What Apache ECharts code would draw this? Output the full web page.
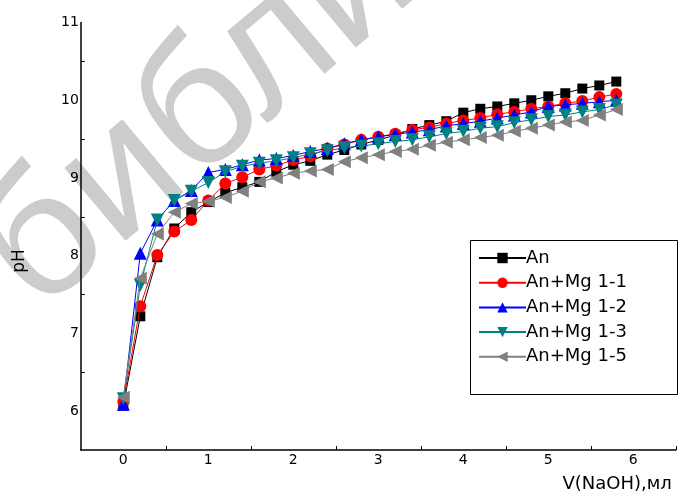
<!DOCTYPE html>
<html>
<head>
<meta charset="utf-8">
<script src="https://cdn.jsdelivr.net/npm/echarts@6/dist/echarts.min.js"></script>
<style>
  html, body { margin: 0; padding: 0; background: #fff; }
  #chart { width: 680px; height: 494px; }
</style>
</head>
<body>
<div id="chart"></div>
<script>
// Volume of titrant added, ml
const volume = [0, 0.2, 0.4, 0.6, 0.8, 1.0, 1.2, 1.4, 1.6, 1.8, 2.0, 2.2, 2.4, 2.6, 2.8,
                3.0, 3.2, 3.4, 3.6, 3.8, 4.0, 4.2, 4.4, 4.6, 4.8, 5.0, 5.2, 5.4, 5.6, 5.8];

// pH readings for each sample
const phAn = [6.07, 7.22, 7.98, 8.35, 8.56, 8.69, 8.81, 8.88, 8.95, 9.08, 9.17, 9.22, 9.30, 9.36, 9.43,
              9.49, 9.55, 9.63, 9.68, 9.73, 9.84, 9.89, 9.92, 9.96, 10.00, 10.05, 10.09, 10.15, 10.19, 10.24];
const phMg11 = [6.12, 7.35, 8.01, 8.31, 8.46, 8.71, 8.93, 9.01, 9.11, 9.16, 9.23, 9.28, 9.38, 9.43, 9.49,
                9.53, 9.57, 9.62, 9.65, 9.70, 9.74, 9.77, 9.82, 9.85, 9.89, 9.92, 9.96, 9.99, 10.04, 10.08];
const phMg12 = [6.09, 8.03, 8.46, 8.71, 8.84, 9.07, 9.11, 9.17, 9.23, 9.25, 9.29, 9.34, 9.38, 9.44, 9.49,
                9.53, 9.56, 9.59, 9.62, 9.67, 9.70, 9.73, 9.77, 9.81, 9.85, 9.92, 9.94, 9.96, 9.98, 10.00];
const phMg13 = [6.16, 7.62, 8.46, 8.71, 8.83, 8.94, 9.08, 9.15, 9.19, 9.22, 9.26, 9.31, 9.35, 9.39, 9.41,
                9.44, 9.47, 9.49, 9.53, 9.57, 9.60, 9.64, 9.66, 9.71, 9.75, 9.79, 9.81, 9.85, 9.88, 9.94];
const phMg15 = [6.18, 7.71, 8.28, 8.56, 8.67, 8.70, 8.75, 8.83, 8.95, 9.00, 9.06, 9.09, 9.11, 9.21, 9.26,
                9.30, 9.34, 9.37, 9.42, 9.46, 9.49, 9.52, 9.55, 9.60, 9.64, 9.68, 9.72, 9.74, 9.81, 9.88];

const seriesNames = ['An', 'An+Mg 1-1', 'An+Mg 1-2', 'An+Mg 1-3', 'An+Mg 1-5'];

// Axis labels and minor (half-step) ticks
const xLabels = [0, 1, 2, 3, 4, 5, 6];
const xMinorTicks = [0.5, 1.5, 2.5, 3.5, 4.5, 5.5, 6.5];
const yLabels = [6, 7, 8, 9, 10, 11];
const yMinorTicks = [6.5, 7.5, 8.5, 9.5, 10.5];

const FONT = 'DejaVu Sans';

const styles = [
  { color: '#000000', symbol: 'rect', size: 10, rotate: 0 },
  { color: '#ff0000', symbol: 'circle', size: 12, rotate: 0 },
  { color: '#0000ff', symbol: 'triangle', size: 13, rotate: 0 },
  { color: '#008080', symbol: 'triangle', size: 13, rotate: 180 },
  { color: '#808080', symbol: 'triangle', size: 13, rotate: 90 }
];

const values = [phAn, phMg11, phMg12, phMg13, phMg15];

const series = values.map((ys, i) => ({
  name: seriesNames[i],
  type: 'line',
  data: volume.map((v, k) => [v, ys[k]]),
  symbol: styles[i].symbol,
  symbolSize: styles[i].size,
  symbolRotate: styles[i].rotate,
  showAllSymbol: true,
  lineStyle: { color: styles[i].color, width: 1 },
  itemStyle: { color: styles[i].color },
  emphasis: { disabled: true },
  z: 2 + i
}));

const chart = echarts.init(document.getElementById('chart'), null, { renderer: 'canvas' });

chart.setOption({
  animation: false,
  backgroundColor: '#ffffff',
  grid: { left: 80.8, top: 22.5, width: 595, height: 427.5, containLabel: false },
  xAxis: {
    type: 'value',
    min: -0.5,
    max: 6.5,
    name: 'V(NaOH),мл',
    nameLocation: 'end',
    nameGap: 0,
    nameTextStyle: {
      fontFamily: FONT, fontSize: 18, color: '#000',
      align: 'right', verticalAlign: 'top', padding: [25, 4, 0, 0]
    },
    axisLine: { onZero: false, lineStyle: { color: '#000', width: 1.5 } },
    axisTick: { show: true, inside: true, length: 4, customValues: xMinorTicks, lineStyle: { color: '#000', width: 1 } },
    axisLabel: { customValues: xLabels, fontFamily: FONT, fontSize: 14, color: '#000', margin: 3 },
    splitLine: { show: false }
  },
  yAxis: {
    type: 'value',
    min: 5.5,
    max: 11,
    axisLine: { show: true, onZero: false, lineStyle: { color: '#000', width: 1.5 } },
    axisTick: { show: true, inside: true, length: 4, customValues: yMinorTicks, lineStyle: { color: '#000', width: 1 } },
    axisLabel: { customValues: yLabels, fontFamily: FONT, fontSize: 14, color: '#000', margin: 2 },
    splitLine: { show: false }
  },
  legend: {
    orient: 'vertical',
    left: 473,
    top: 243,
    itemWidth: 47,
    itemHeight: 13,
    itemGap: 4.7,
    selectedMode: false,
    data: seriesNames,
    textStyle: { fontFamily: FONT, fontSize: 18, color: '#000', lineHeight: 20, padding: [0, 0, 0, -5] }
  },
  graphic: {
    elements: [
      {
        type: 'text',
        z: -10,
        silent: true,
        x: 63,
        y: 346,
        rotation: 40 * Math.PI / 180,
        style: {
          text: 'библиотека',
          font: '180px "Liberation Sans"',
          fill: '#cccccc',
          textAlign: 'left',
          textVerticalAlign: 'bottom'
        }
      },
      {
        type: 'rect',
        z: 50,
        silent: true,
        shape: { x: 470.5, y: 240.5, width: 207, height: 154 },
        style: { fill: 'none', stroke: '#000', lineWidth: 1 }
      },
      {
        type: 'text',
        z: 50,
        silent: true,
        x: 20,
        y: 261,
        rotation: Math.PI / 2,
        style: {
          text: 'pH',
          font: '17px "DejaVu Sans"',
          fill: '#000',
          textAlign: 'center',
          textVerticalAlign: 'middle'
        }
      }
    ]
  },
  series: series
});
</script>
</body>
</html>
